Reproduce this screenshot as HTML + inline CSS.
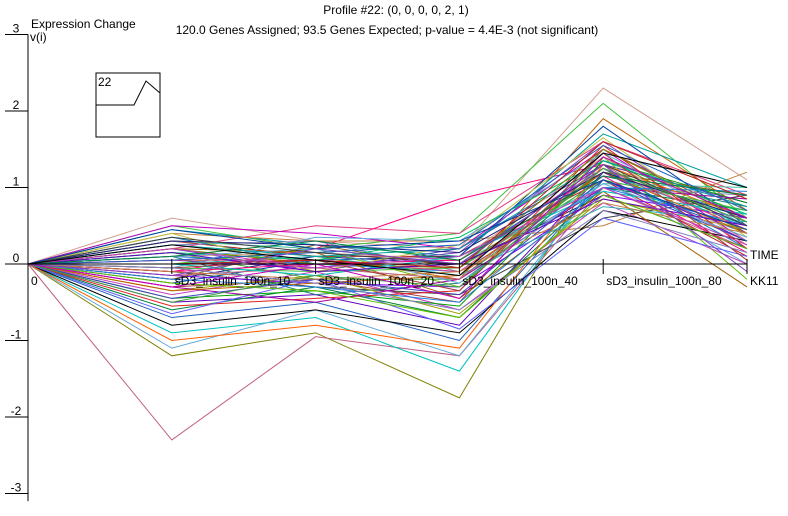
<!DOCTYPE html>
<html><head><meta charset="utf-8"><style>
body{margin:0;background:#fff;font-family:"Liberation Sans",sans-serif;}
svg text{font-family:"Liberation Sans",sans-serif;font-size:12px;fill:#000;}
</style></head><body>
<svg width="788" height="511" id="c">
<text x="396" y="14" text-anchor="middle">Profile #22: (0, 0, 0, 0, 2, 1)</text>
<text x="387" y="34" text-anchor="middle">120.0 Genes Assigned; 93.5 Genes Expected; p-value = 4.4E-3 (not significant)</text>
<text x="31" y="28">Expression Change</text>
<text x="30" y="41">v(i)</text>
<g id="lines"></g>
<g id="axes"></g>
<g>
<rect x="96" y="73" width="64" height="64" fill="none" stroke="#000"/>
<text x="98" y="86">22</text>
<polyline points="96,105 134,105 146,81 160,93" fill="none" stroke="#000"/>
</g>
</svg>
<script>
const timeLabels=["0","sD3_insulin_100n_10","sD3_insulin_100n_20","sD3_insulin_100n_40","sD3_insulin_100n_80","KK11"];
const yTicks=[3,2,1,0,-1,-2,-3];
const genes=[
[0,0.6,0.3,0.2,2.3,1.1],[0,0.5,0.2,0.4,2.1,0.6],[0,0.2,0.5,0.4,1.6,0.9],[0,-0.1,0.2,0.85,1.3,0.8],
[0,-1.2,-0.9,-1.75,1.4,0.4],[0,-2.3,-0.95,-1.2,1.0,0.2],[0,-0.9,-0.7,-1.4,1.2,0.5],[0,-1.1,-0.6,-1.2,1.1,0.0],
[0,0.3,0.1,-0.2,1.9,0.7],[0,0.45,0.25,0.1,1.7,1.0],[0,-0.3,-0.2,-0.5,1.5,0.6],[0,-0.5,-0.4,-0.8,1.2,0.3],
[0,0.1,0.0,-0.1,1.0,0.5],[0,-0.2,0.1,0.0,0.9,0.2],[0,0.2,-0.1,0.2,1.3,0.8],[0,-0.7,-0.5,-1.0,1.1,0.4],
[0,0.4,0.3,0.3,0.5,1.2],[0,-0.1,-0.3,-0.4,0.6,0.9],[0,0.0,0.2,-0.3,1.4,-0.2],[0,0.3,0.1,0.1,1.1,0.1],
[0,-0.4,-0.1,-0.6,0.8,0.0],[0,0.15,-0.2,-0.2,1.2,0.6],[0,-0.6,-0.3,-0.7,1.0,0.7],[0,0.5,0.4,0.2,1.5,0.3],
[0,-0.25,0.05,0.1,1.8,0.5],[0,0.25,0.3,-0.1,1.0,0.9],[0,-0.8,-0.6,-0.9,0.7,0.3],[0,0.05,-0.05,0.15,1.6,0.4],
[0,-0.15,-0.25,-0.3,0.9,0.6],[0,0.35,0.0,0.05,1.25,0.2],[0,-0.45,-0.35,-0.55,1.35,0.8],[0,0.2,0.15,-0.45,0.95,-0.3],
[0,-0.05,0.35,0.3,1.45,0.5],[0,0.1,-0.4,-0.25,1.15,0.75],[0,-0.35,-0.15,-0.65,0.85,0.45],[0,0.3,0.2,0.0,1.05,1.0],
[0,-1.0,-0.8,-1.1,1.3,0.6],[0,-0.55,-0.45,-0.35,1.55,0.2],[0,0.0,0.1,-0.15,0.75,0.55],[0,0.4,-0.1,0.25,1.65,0.35],
[0,-0.2,0.25,-0.05,1.2,0.9],[0,-0.65,-0.2,-0.85,0.6,0.1],[0,0.15,0.05,0.35,1.35,0.65],[0,-0.3,-0.5,-0.2,1.0,0.85],
[0,0.1,0.15,0.05,1.4,0.3],[0,-0.05,-0.1,-0.05,1.1,0.7],[0,0.05,0.05,-0.1,1.25,0.45],[0,-0.1,0.0,0.05,1.15,0.15],
[0,0.2,0.0,-0.05,1.5,0.55],[0,-0.15,-0.05,-0.2,1.3,0.25],[0,0.0,-0.15,0.1,0.95,0.65],[0,0.1,0.2,-0.25,1.05,0.35],
[0,-0.35,-0.25,-0.15,1.2,0.4],[0,0.25,0.1,0.2,1.35,0.75],[0,-0.05,0.05,-0.35,1.45,0.05],[0,0.15,-0.1,0.0,0.85,0.5],
[0,-0.2,-0.3,-0.5,1.0,0.95],[0,0.3,0.25,0.15,1.2,0.6],[0,-0.45,-0.2,-0.4,1.1,0.3],[0,0.05,0.15,0.25,1.55,0.7],
[0,-0.1,-0.2,-0.1,0.8,0.4],[0,0.35,0.15,0.0,1.3,0.5],[0,-0.25,-0.35,-0.7,0.9,0.2],[0,0.0,0.05,-0.05,1.6,0.85],
[0,0.2,-0.05,0.1,1.0,0.25],[0,-0.5,-0.15,-0.3,1.25,0.55],[0,0.1,0.3,0.05,1.15,0.9],[0,-0.3,0.0,-0.45,1.4,0.6],
[0,0.45,0.2,0.3,1.1,0.45],[0,-0.05,-0.25,-0.6,0.7,0.15],[0,0.25,0.05,-0.15,1.45,1.0],[0,-0.15,0.2,0.0,1.3,-0.1]
];
const colors=["#d0a090","#c02020","#30b0b0","#202080","#60a8d8","#60a8d8","#000000","#40c040","#c040c0","#c0c040","#4040c0","#208080","#c06000","#8040c0","#e04080","#40a040","#806020","#2060c0","#a0a000","#00a0a0","#8000ff","#ff0080","#008040","#6060ff","#c08040","#40c0a0","#a04040","#0080c0","#808000","#c000c0","#00c060","#404040","#ff6000","#6000c0","#00a000","#c06080","#0040a0","#a000a0","#60c000","#e02020","#2080e0","#a06000","#00c0c0","#8080c0"];
const x0=28,dx=143.8,y0=264,unit=76.5;
const X=i=>x0+i*dx, Y=v=>y0-v*unit;
const NS="http://www.w3.org/2000/svg";
const lg=document.getElementById('lines');
genes.forEach((g,k)=>{
 const p=document.createElementNS(NS,'polyline');
 
 
 p.setAttribute('points',g.map((v,i)=>X(i)+','+Y(v)).join(' '));
 p.setAttribute('fill','none');p.setAttribute('stroke',colors[(k*7)%colors.length]);p.setAttribute('stroke-width','1');
 lg.appendChild(p);
});
const ax=document.getElementById('axes');
function mk(tag,attrs,txt){const e=document.createElementNS(NS,tag);for(const a in attrs)e.setAttribute(a,attrs[a]);if(txt!==undefined)e.textContent=txt;ax.appendChild(e);return e;}
let e=mk('line',{x1:x0,y1:Y(3),x2:x0,y2:Y(-3.1),stroke:'#000'});

e=mk('line',{x1:x0,y1:y0,x2:X(5),y2:y0,stroke:'#000'});

yTicks.forEach(t=>{
 e=mk('line',{x1:5,y1:Y(t),x2:x0,y2:Y(t),stroke:'#000'});
 
 e=mk('text',{x:16,y:Y(t)-2,'text-anchor':'middle'},String(t));
 
});
timeLabels.forEach((l,i)=>{
 e=mk('line',{x1:X(i),y1:y0-5,x2:X(i),y2:y0+10,stroke:'#000'});
 
 e=mk('text',{x:X(i)+3,y:285},l);
 
});
e=mk('text',{x:750,y:259},'TIME');

</script>
</body></html>
